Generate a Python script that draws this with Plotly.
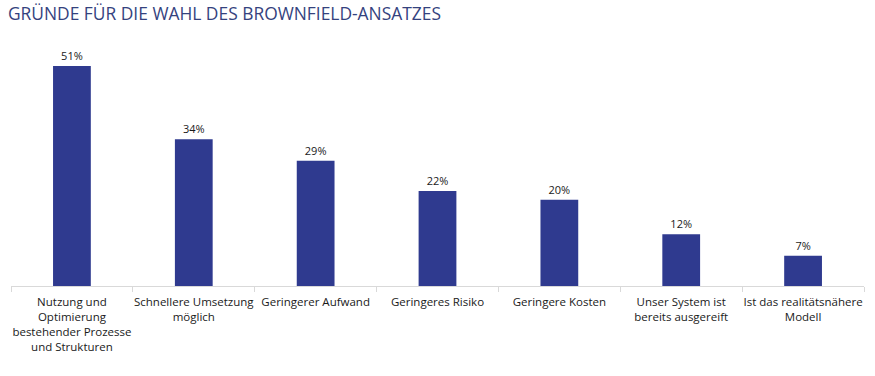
import plotly.graph_objects as go

categories = [
    "Nutzung und<br>Optimierung<br>bestehender Prozesse<br>und Strukturen",
    "Schnellere Umsetzung<br>möglich",
    "Geringerer Aufwand",
    "Geringeres Risiko",
    "Geringere Kosten",
    "Unser System ist<br>bereits ausgereift",
    "Ist das realitätsnähere<br>Modell",
]
values = [51, 34, 29, 22, 20, 12, 7]
labels = [f"{v}%" for v in values]

fig = go.Figure(go.Bar(
    x=categories, y=values, text=labels, textposition="outside",
    textfont=dict(size=11, color="#1a1a1a", family="Open Sans"),
    marker=dict(color="#2f3a8f", line=dict(width=0)),
    cliponaxis=False,
))

fig.update_layout(
    width=875, height=376,
    margin=dict(l=11, r=11, t=40, b=90),
    paper_bgcolor="white", plot_bgcolor="white",
    bargap=0.69,
    showlegend=False,
    title=dict(text="GRÜNDE FÜR DIE WAHL DES BROWNFIELD-ANSATZES",
               x=0.009, xanchor="left", y=0.962, yanchor="middle",
               font=dict(size=17.4, color="#34427e", family="Open Sans")),
    xaxis=dict(showline=True, linecolor="#d9d9d9", linewidth=1, automargin=False,
               ticks="outside", tickson="boundaries", ticklen=5, tickcolor="#d9d9d9",
               ticklabelstandoff=5,
               tickfont=dict(size=11.5, color="#1a1a1a", family="Open Sans"),
               tickangle=0),
    yaxis=dict(visible=False, range=[0, 57], showgrid=False, automargin=False),
)

fig.write_html("out.html", config={"displayModeBar": False},
               post_script="document.body.style.margin='0';")
